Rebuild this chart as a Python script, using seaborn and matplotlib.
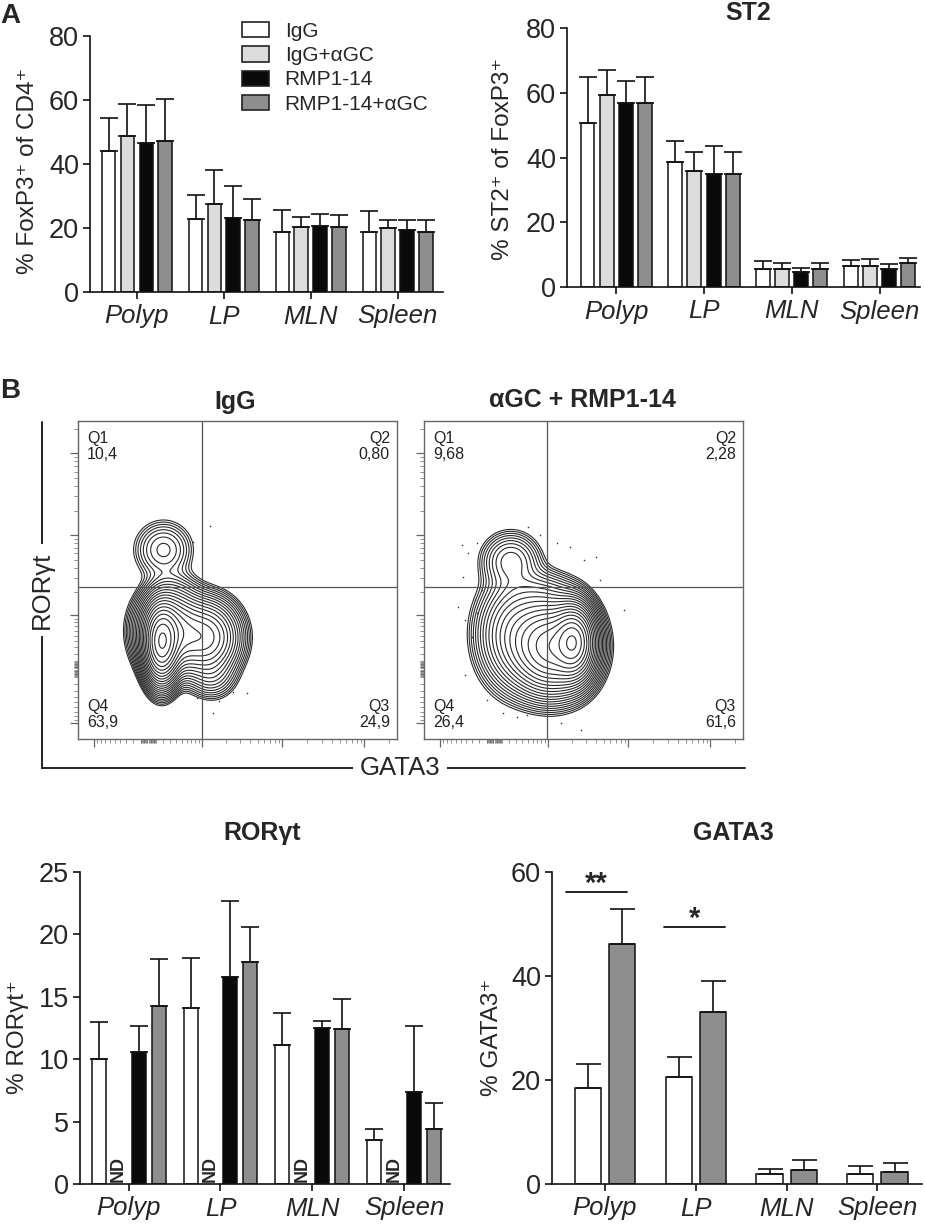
import numpy as np
import pandas as pd
import seaborn as sns
import matplotlib
matplotlib.use("Agg")
import matplotlib.pyplot as plt
import matplotlib.patches as mpatches
from matplotlib.lines import Line2D

# ---------------- data ----------------
tissues = ["Polyp", "LP", "MLN", "Spleen"]
groups = ["IgG", "IgG+αGC", "RMP1-14", "RMP1-14+αGC"]
group_colors = ["#ffffff", "#dcdcdc", "#0a0a0a", "#8e8e8e"]

# % FoxP3+ of CD4+
foxp3_igg = [44.0, 22.9, 18.8, 18.8]
foxp3_igg_agc = [48.8, 27.6, 20.4, 20.1]
foxp3_rmp = [46.7, 23.1, 20.5, 19.3]
foxp3_rmp_agc = [47.2, 22.6, 20.4, 18.6]
foxp3_sem_igg = [10.4, 7.3, 6.7, 6.4]
foxp3_sem_igg_agc = [9.8, 10.5, 2.9, 2.5]
foxp3_sem_rmp = [11.7, 10.1, 3.9, 3.3]
foxp3_sem_rmp_agc = [13.0, 6.4, 3.6, 4.0]

# % ST2+ of FoxP3+
st2_igg = [50.8, 38.5, 5.7, 6.5]
st2_igg_agc = [59.2, 35.7, 5.7, 6.4]
st2_rmp = [56.8, 34.9, 4.6, 5.7]
st2_rmp_agc = [56.9, 34.9, 5.7, 7.5]
st2_sem_igg = [14.2, 6.7, 2.2, 1.8]
st2_sem_igg_agc = [7.7, 6.1, 1.8, 2.3]
st2_sem_rmp = [6.7, 8.6, 1.3, 1.3]
st2_sem_rmp_agc = [8.1, 6.9, 1.6, 1.5]

# % RORgt+ (IgG+aGC not detected)
ror_igg = [10.0, 14.1, 11.1, 3.5]
ror_igg_agc = [None, None, None, None]
ror_rmp = [10.6, 16.6, 12.5, 7.4]
ror_rmp_agc = [14.3, 17.8, 12.4, 4.4]
ror_sem_igg = [3.0, 4.0, 2.6, 0.9]
ror_sem_rmp = [2.1, 6.1, 0.6, 5.3]
ror_sem_rmp_agc = [3.7, 2.8, 2.4, 2.1]

# % GATA3+
gata_groups = ["IgG", "RMP1-14+αGC"]
gata_igg = [18.4, 20.6, 1.9, 1.9]
gata_rmp_agc = [46.1, 33.0, 2.7, 2.3]
gata_sem_igg = [4.6, 3.9, 0.9, 1.6]
gata_sem_rmp_agc = [6.7, 6.1, 2.0, 1.7]

# flow plots: quadrant percentages
quad_igg = {"Q1": "10,4", "Q2": "0,80", "Q3": "24,9", "Q4": "63,9"}
quad_agc = {"Q1": "9,68", "Q2": "2,28", "Q3": "61,6", "Q4": "26,4"}

# density model components (axis-fraction units): x, y, sx, sy, weight
igg_cx = [0.262, 0.290, 0.400, 0.268, 0.300, 0.420]
igg_cy = [0.300, 0.340, 0.320, 0.595, 0.470, 0.200]
igg_sx = [0.027, 0.050, 0.052, 0.048, 0.045, 0.040]
igg_sy = [0.060, 0.062, 0.058, 0.048, 0.035, 0.040]
igg_w = [1.00, 0.40, 0.28, 0.035, 0.010, 0.030]

agc_cx = [0.470, 0.400, 0.290, 0.272, 0.370]
agc_cy = [0.305, 0.290, 0.330, 0.560, 0.460]
agc_sx = [0.032, 0.062, 0.060, 0.048, 0.060]
agc_sy = [0.055, 0.070, 0.085, 0.047, 0.040]
agc_w = [0.80, 0.55, 0.12, 0.040, 0.018]

# sparse outlier events
igg_dot_x = [0.414, 0.361, 0.470, 0.486, 0.530, 0.442, 0.423, 0.373]
igg_dot_y = [0.670, 0.619, 0.478, 0.148, 0.145, 0.119, 0.082, 0.129]
agc_dot_x = [0.119, 0.138, 0.167, 0.123, 0.107, 0.129, 0.151, 0.167, 0.129, 0.198,
             0.248, 0.292, 0.324, 0.428, 0.491, 0.327, 0.365, 0.418, 0.459, 0.500,
             0.538, 0.553, 0.626, 0.182, 0.160]
agc_dot_y = [0.610, 0.585, 0.616, 0.509, 0.415, 0.374, 0.321, 0.396, 0.201, 0.123,
             0.082, 0.069, 0.075, 0.050, 0.028, 0.667, 0.642, 0.616, 0.604, 0.563,
             0.572, 0.500, 0.406, 0.469, 0.437]

# ---------------- setup ----------------
sns.set_theme(style="white")
plt.rcParams["font.family"] = ["Liberation Sans", "DejaVu Sans"]
W, H = 925, 1225
fig = plt.figure(figsize=(W / 100, H / 100), dpi=100)

YTICK_FS = 19.5
XTICK_FS = 18.5
YLAB_FS = 17.5
TITLE_FS = 18


def rect(l, t, r, b):
    return [l / W, 1 - b / H, (r - l) / W, (b - t) / H]


def make_df(series, sems, names):
    rows = []
    for name, vals, errs in zip(names, series, sems):
        for i, t in enumerate(tissues):
            if vals[i] is None:
                continue
            rows.append({"tissue": t, "group": name, "value": vals[i],
                         "sem": errs[i], "ti": i, "gi": names.index(name)})
    return pd.DataFrame(rows)


def bar_panel(ax, df, order_groups, palette, width, gap, ylim, yticks, xlim, capsize):
    sns.barplot(data=df, x="tissue", y="value", hue="group", order=tissues,
                hue_order=order_groups, palette=palette, width=width, gap=gap,
                edgecolor="#111111", linewidth=1.1, errorbar=None, legend=False,
                saturation=1, ax=ax)
    bars = sorted([p for p in ax.patches if p.get_height() > 0], key=lambda p: p.get_x())
    d = df.sort_values(["ti", "gi"])
    xs = [p.get_x() + p.get_width() / 2 for p in bars]
    hs = [p.get_height() for p in bars]
    ax.errorbar(xs, hs, yerr=[np.zeros(len(hs)), d["sem"].values], fmt="none",
                ecolor="#111111", elinewidth=1.2, capsize=capsize, capthick=1.2, zorder=3)
    ax.set_ylim(*ylim)
    ax.set_yticks(yticks)
    ax.set_xlim(*xlim)
    ax.set_xlabel("")
    ax.set_ylabel("")
    for s in ["top", "right"]:
        ax.spines[s].set_visible(False)
    for s in ["left", "bottom"]:
        ax.spines[s].set_linewidth(1.2)
        ax.spines[s].set_color("#111111")
    ax.tick_params(axis="both", direction="out", length=5, width=1.2, color="#111111",
                   left=True, bottom=True)
    ax.tick_params(axis="y", labelsize=YTICK_FS, pad=3)
    ax.tick_params(axis="x", labelsize=XTICK_FS, pad=4)
    for lab in ax.get_xticklabels():
        lab.set_fontstyle("italic")
    return bars


pal4 = dict(zip(groups, group_colors))

# ---- A left: FoxP3 ----
axA1 = fig.add_axes(rect(90, 36, 443, 292))
df_fox = make_df([foxp3_igg, foxp3_igg_agc, foxp3_rmp, foxp3_rmp_agc],
                 [foxp3_sem_igg, foxp3_sem_igg_agc, foxp3_sem_rmp, foxp3_sem_rmp_agc], groups)
bar_panel(axA1, df_fox, groups, pal4, 0.87, 0.27, (0, 80), [0, 20, 40, 60, 80], (-0.54, 3.52), 6.5)
fig.text(28 / W, 1 - 171 / H, "% FoxP3⁺ of CD4⁺", rotation=90, ha="center", va="center", fontsize=YLAB_FS)

handles = [mpatches.Patch(facecolor=c, edgecolor="#222222", linewidth=1.2) for c in group_colors]
fig.legend(handles, groups, loc="upper left", bbox_to_anchor=(242 / W, 1 - 22 / H),
           frameon=False, fontsize=15, handlelength=1.3, handleheight=0.75,
           labelspacing=0.25, handletextpad=0.75, borderpad=0, borderaxespad=0)

# ---- A right: ST2 ----
axA2 = fig.add_axes(rect(567, 28, 920, 287))
df_st2 = make_df([st2_igg, st2_igg_agc, st2_rmp, st2_rmp_agc],
                 [st2_sem_igg, st2_sem_igg_agc, st2_sem_rmp, st2_sem_rmp_agc], groups)
bar_panel(axA2, df_st2, groups, pal4, 0.87, 0.27, (0, 80), [0, 20, 40, 60, 80], (-0.56, 3.46), 6.5)
fig.text(503 / W, 1 - 159 / H, "% ST2⁺ of FoxP3⁺", rotation=90, ha="center", va="center", fontsize=YLAB_FS)
fig.text(748 / W, 1 - 13 / H, "ST2", ha="center", va="center", fontsize=TITLE_FS, fontweight="bold")

# ---- B bottom left: RORgt ----
axB1 = fig.add_axes(rect(80, 872, 450, 1184))
df_ror = make_df([ror_igg, ror_igg_agc, ror_rmp, ror_rmp_agc],
                 [ror_sem_igg, [0, 0, 0, 0], ror_sem_rmp, ror_sem_rmp_agc], groups)
barsB1 = bar_panel(axB1, df_ror, groups, pal4, 0.87, 0.30, (0, 25), [0, 5, 10, 15, 20, 25],
                   (-0.53, 3.5), 6.5)
# ND labels in the empty IgG+aGC slot
step = barsB1[2].get_x() - barsB1[1].get_x()
for k in range(4):
    black_bar = barsB1[3 * k + 1]
    xnd = black_bar.get_x() + black_bar.get_width() / 2 - step
    axB1.text(xnd, 0.2, "ND", rotation=90, ha="center", va="bottom", fontsize=13,
              fontweight="bold")
fig.text(18 / W, 1 - 1037 / H, "% RORγt⁺", rotation=90, ha="center", va="center", fontsize=YLAB_FS)
fig.text(262 / W, 1 - 833 / H, "RORγt", ha="center", va="center", fontsize=TITLE_FS, fontweight="bold")

# ---- B bottom right: GATA3 ----
axB2 = fig.add_axes(rect(552, 872, 922, 1184))
df_gata = make_df([gata_igg, gata_rmp_agc], [gata_sem_igg, gata_sem_rmp_agc], gata_groups)
bar_panel(axB2, df_gata, gata_groups, {"IgG": "#ffffff", "RMP1-14+αGC": "#8e8e8e"},
          0.75, 0.235, (0, 60), [0, 20, 40, 60], (-0.58, 3.49), 9)
axB2.plot([-0.43, 0.24], [56.1, 56.1], color="#111111", lw=1.3)
axB2.text(-0.095, 56.2, "**", ha="center", va="baseline", fontsize=21, fontweight="bold")
axB2.plot([0.65, 1.32], [49.4, 49.4], color="#111111", lw=1.3)
axB2.text(0.985, 49.5, "*", ha="center", va="baseline", fontsize=21, fontweight="bold")
fig.text(492 / W, 1 - 1037 / H, "% GATA3⁺", rotation=90, ha="center", va="center", fontsize=YLAB_FS)
fig.text(733 / W, 1 - 833 / H, "GATA3", ha="center", va="center", fontsize=TITLE_FS, fontweight="bold")


# ---------------- flow plots ----------------
def biex(v):
    return 0.22 + 0.1116 * np.arcsinh(np.asarray(v, dtype=float) / 460.0)


major_vals = [-1000, 1000, 10000, 100000]
minor_vals = ([m * 10 ** k for k in (1, 2, 3, 4) for m in range(1, 10) if m * 10 ** k not in major_vals]
              + [-m * 10 ** k for k in (1, 2) for m in range(1, 10)] + [200000])
major_u = [u for u in biex(major_vals) if 0 < u < 1]
minor_u = [u for u in biex(minor_vals) if 0 < u < 1]

grid = np.linspace(0, 1, 400)
GX, GY = np.meshgrid(grid, grid)
levels = np.geomspace(0.004, 0.93, 22)


def flow_panel(ax, cx, cy, sx, sy, w, dx, dy, quads, gate_x, gate_y):
    Z = np.zeros_like(GX)
    for a, b, s1, s2, ww in zip(cx, cy, sx, sy, w):
        Z += ww * np.exp(-0.5 * (((GX - a) / s1) ** 2 + ((GY - b) / s2) ** 2))
    Z /= Z.max()
    ax.contour(GX, GY, Z, levels=levels, colors="#2a2a2a", linewidths=0.8)
    ax.scatter(dx, dy, s=1.3, color="#333333", linewidths=0)
    ax.axvline(gate_x, color="#555555", lw=0.9)
    ax.axhline(gate_y, color="#555555", lw=0.9)
    ax.set_xlim(0, 1)
    ax.set_ylim(0, 1)
    for s in ax.spines.values():
        s.set_color("#666666")
        s.set_linewidth(1.0)
        s.set_visible(True)
    ax.set_xticks(major_u)
    ax.set_yticks(major_u)
    ax.set_xticks(minor_u, minor=True)
    ax.set_yticks(minor_u, minor=True)
    ax.tick_params(which="major", direction="out", length=6, width=0.9, color="#666666",
                   labelbottom=False, labelleft=False, bottom=True, left=True)
    ax.tick_params(which="minor", direction="out", length=3, width=0.5, color="#666666",
                   bottom=True, left=True)
    kw = dict(fontsize=11.5, color="#222222", transform=ax.transAxes, linespacing=1.1)
    ax.text(0.028, 0.968, "Q1\n" + quads["Q1"], ha="left", va="top", **kw)
    ax.text(0.978, 0.968, "Q2\n" + quads["Q2"], ha="right", va="top", multialignment="right", **kw)
    ax.text(0.028, 0.028, "Q4\n" + quads["Q4"], ha="left", va="bottom", **kw)
    ax.text(0.978, 0.028, "Q3\n" + quads["Q3"], ha="right", va="bottom", multialignment="right", **kw)


axF1 = fig.add_axes(rect(78, 421, 397, 739))
flow_panel(axF1, igg_cx, igg_cy, igg_sx, igg_sy, igg_w, igg_dot_x, igg_dot_y, quad_igg, 0.389, 0.478)
axF2 = fig.add_axes(rect(424, 421, 743, 739))
flow_panel(axF2, agc_cx, agc_cy, agc_sx, agc_sy, agc_w, agc_dot_x, agc_dot_y, quad_agc, 0.387, 0.478)

fig.text(235 / W, 1 - 402 / H, "IgG", ha="center", va="center", fontsize=TITLE_FS, fontweight="bold")
fig.text(582 / W, 1 - 400 / H, "αGC + RMP1-14", ha="center", va="center", fontsize=TITLE_FS, fontweight="bold")

# axis brackets
fig.add_artist(Line2D([42 / W, 42 / W], [1 - 422 / H, 1 - 768 / H], color="#222222", lw=1.4))
fig.add_artist(Line2D([42 / W, 745 / W], [1 - 768 / H, 1 - 768 / H], color="#222222", lw=1.4))
fig.text(42 / W, 1 - 590 / H, "RORγt", rotation=90, ha="center", va="center", fontsize=18.5,
         bbox=dict(facecolor="white", edgecolor="none", pad=5))
fig.text(400 / W, 1 - 768 / H, "GATA3", ha="center", va="center", fontsize=18.5,
         bbox=dict(facecolor="white", edgecolor="none", pad=5))

# panel letters
fig.text(10 / W, 1 - 16 / H, "A", ha="center", va="center", fontsize=20, fontweight="bold")
fig.text(10 / W, 1 - 391 / H, "B", ha="center", va="center", fontsize=20, fontweight="bold")

fig.savefig("out.png", dpi=100)
